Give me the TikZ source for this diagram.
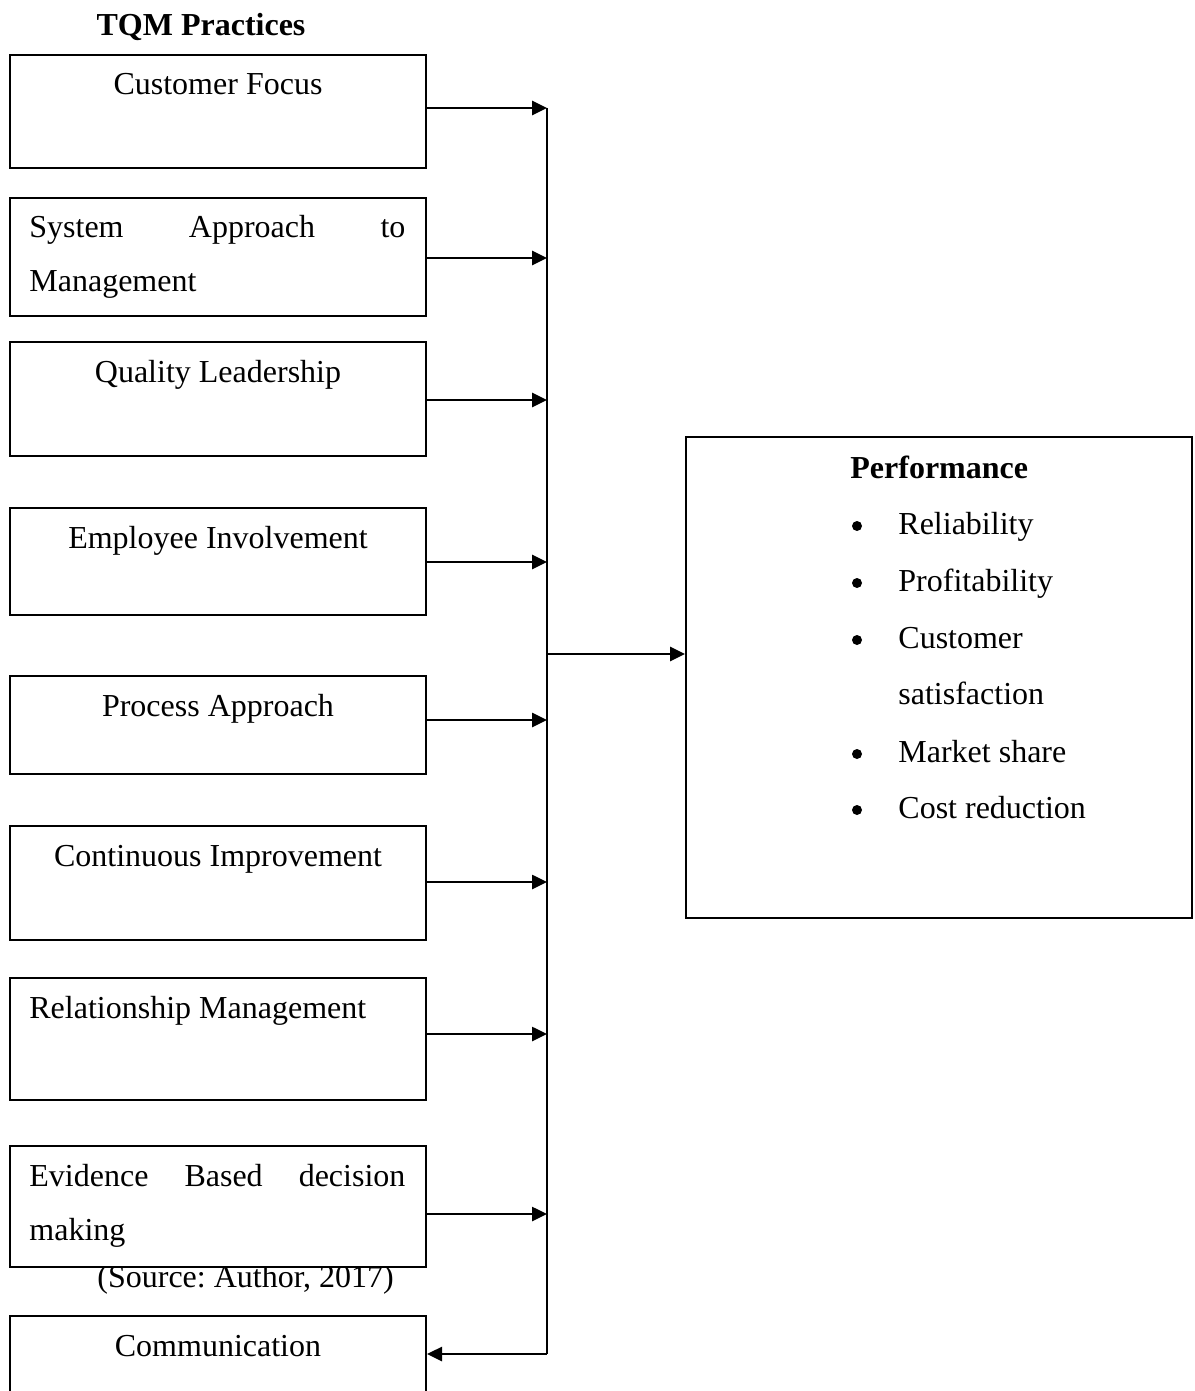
\documentclass[tikz,border=0pt]{standalone}
\usepackage{fontspec}
\setmainfont{Liberation Serif}
\usetikzlibrary{arrows.meta,calc}
\frenchspacing

\tikzset{
  box/.style={draw, line width=1pt, fill=white, minimum width=208pt, inner sep=0pt},
  lbl/.style={anchor=base, inner sep=0pt},
  dot/.style={circle, fill, inner sep=0pt, minimum size=5pt},
  arr/.style={line width=1.3pt, -{Triangle[length=7.5pt,width=7pt]}},
  bus/.style={line width=1.3pt},
}

\begin{document}
\begin{tikzpicture}[x=0.5pt, y=-0.5pt, font=\fontsize{16}{27}\selectfont]
\useasboundingbox (0,0) rectangle (1194,1391);

\node[lbl, font=\fontsize{16}{27}\selectfont\bfseries] (title) at (201,36) {TQM Practices};

% practices
\node[box, minimum height=56.5pt] (cf) at (218,111.5) {};
\node[lbl] (cft) at ([yshift=-20.5pt]cf.north) {Customer Focus};

\node[box, minimum height=59pt] (sa) at (218,257) {};
\node[lbl, anchor=base west] (sat) at ([xshift=10pt,yshift=-20.5pt]sa.north west) {\makebox[188pt][s]{System Approach to}};
\node[lbl, anchor=base west] (sat2) at ([yshift=-27pt]sat.base west) {Management};

\node[box, minimum height=57pt] (ql) at (218,399) {};
\node[lbl] (qlt) at ([yshift=-20.5pt]ql.north) {Quality Leadership};

\node[box, minimum height=53.5pt] (ei) at (218,561.5) {};
\node[lbl] (eit) at ([yshift=-20.5pt]ei.north) {Employee Involvement};

\node[box, minimum height=49pt] (pa) at (218,725) {};
\node[lbl] (pat) at ([yshift=-20.5pt]pa.north) {Process Approach};

\node[box, minimum height=57pt] (ci) at (218,883) {};
\node[lbl] (cit) at ([yshift=-20.5pt]ci.north) {Continuous Improvement};

\node[box, minimum height=61pt] (rm) at (218,1039) {};
\node[lbl, anchor=base west] (rmt) at ([xshift=10pt,yshift=-20.5pt]rm.north west) {Relationship Management};

% source line sits under the next box
\node[lbl, anchor=base west] (src) at (97,1287) {(Source: Author, 2017)};

\node[box, minimum height=60.5pt] (eb) at (218,1206.5) {};
\node[lbl, anchor=base west] (ebt) at ([xshift=10pt,yshift=-20.5pt]eb.north west) {\makebox[188pt][s]{Evidence Based decision}};
\node[lbl, anchor=base west] (ebt2) at ([yshift=-27pt]ebt.base west) {making};

\node[box, minimum height=57pt] (com) at (218,1373) {};
\node[lbl] (comt) at ([yshift=-20.5pt]com.north) {Communication};

% performance
\node[box, minimum width=253pt, minimum height=240.5pt] (perf) at (939,677.5) {};
\node[lbl, anchor=base west, font=\fontsize{16}{27}\selectfont\bfseries] (perft) at (850,478) {Performance};
\node[dot] (b1) at (857,526) {};
\node[lbl, anchor=base west] (p1) at (898,534) {Reliability};
\node[dot] (b2) at (857,583) {};
\node[lbl, anchor=base west] (p2) at (898,591) {Profitability};
\node[dot] (b3) at (857,640) {};
\node[lbl, anchor=base west] (p3) at (898,648) {Customer};
\node[lbl, anchor=base west] (p3b) at (898,704) {satisfaction};
\node[dot] (b4) at (857,754) {};
\node[lbl, anchor=base west] (p4) at (898,762) {Market share};
\node[dot] (b5) at (857,810) {};
\node[lbl, anchor=base west] (p5) at (898,818) {Cost reduction};

% connectors
\foreach \b/\y in {cf/108, sa/258, ql/400, ei/562, pa/720, ci/882, rm/1034, eb/1214} {
  \coordinate (j\b) at (547,\y);
  \draw[arr] (\b.east |- j\b) -- (j\b);
}
\coordinate (jcom) at (547,1354);
\coordinate (jp) at (547,654);
\draw[bus] (jcf) -- (jcom);
\draw[arr] (jcom) -- (com.east |- jcom);
\draw[arr] (jp) -- (perf.west |- jp);
\end{tikzpicture}
\end{document}
